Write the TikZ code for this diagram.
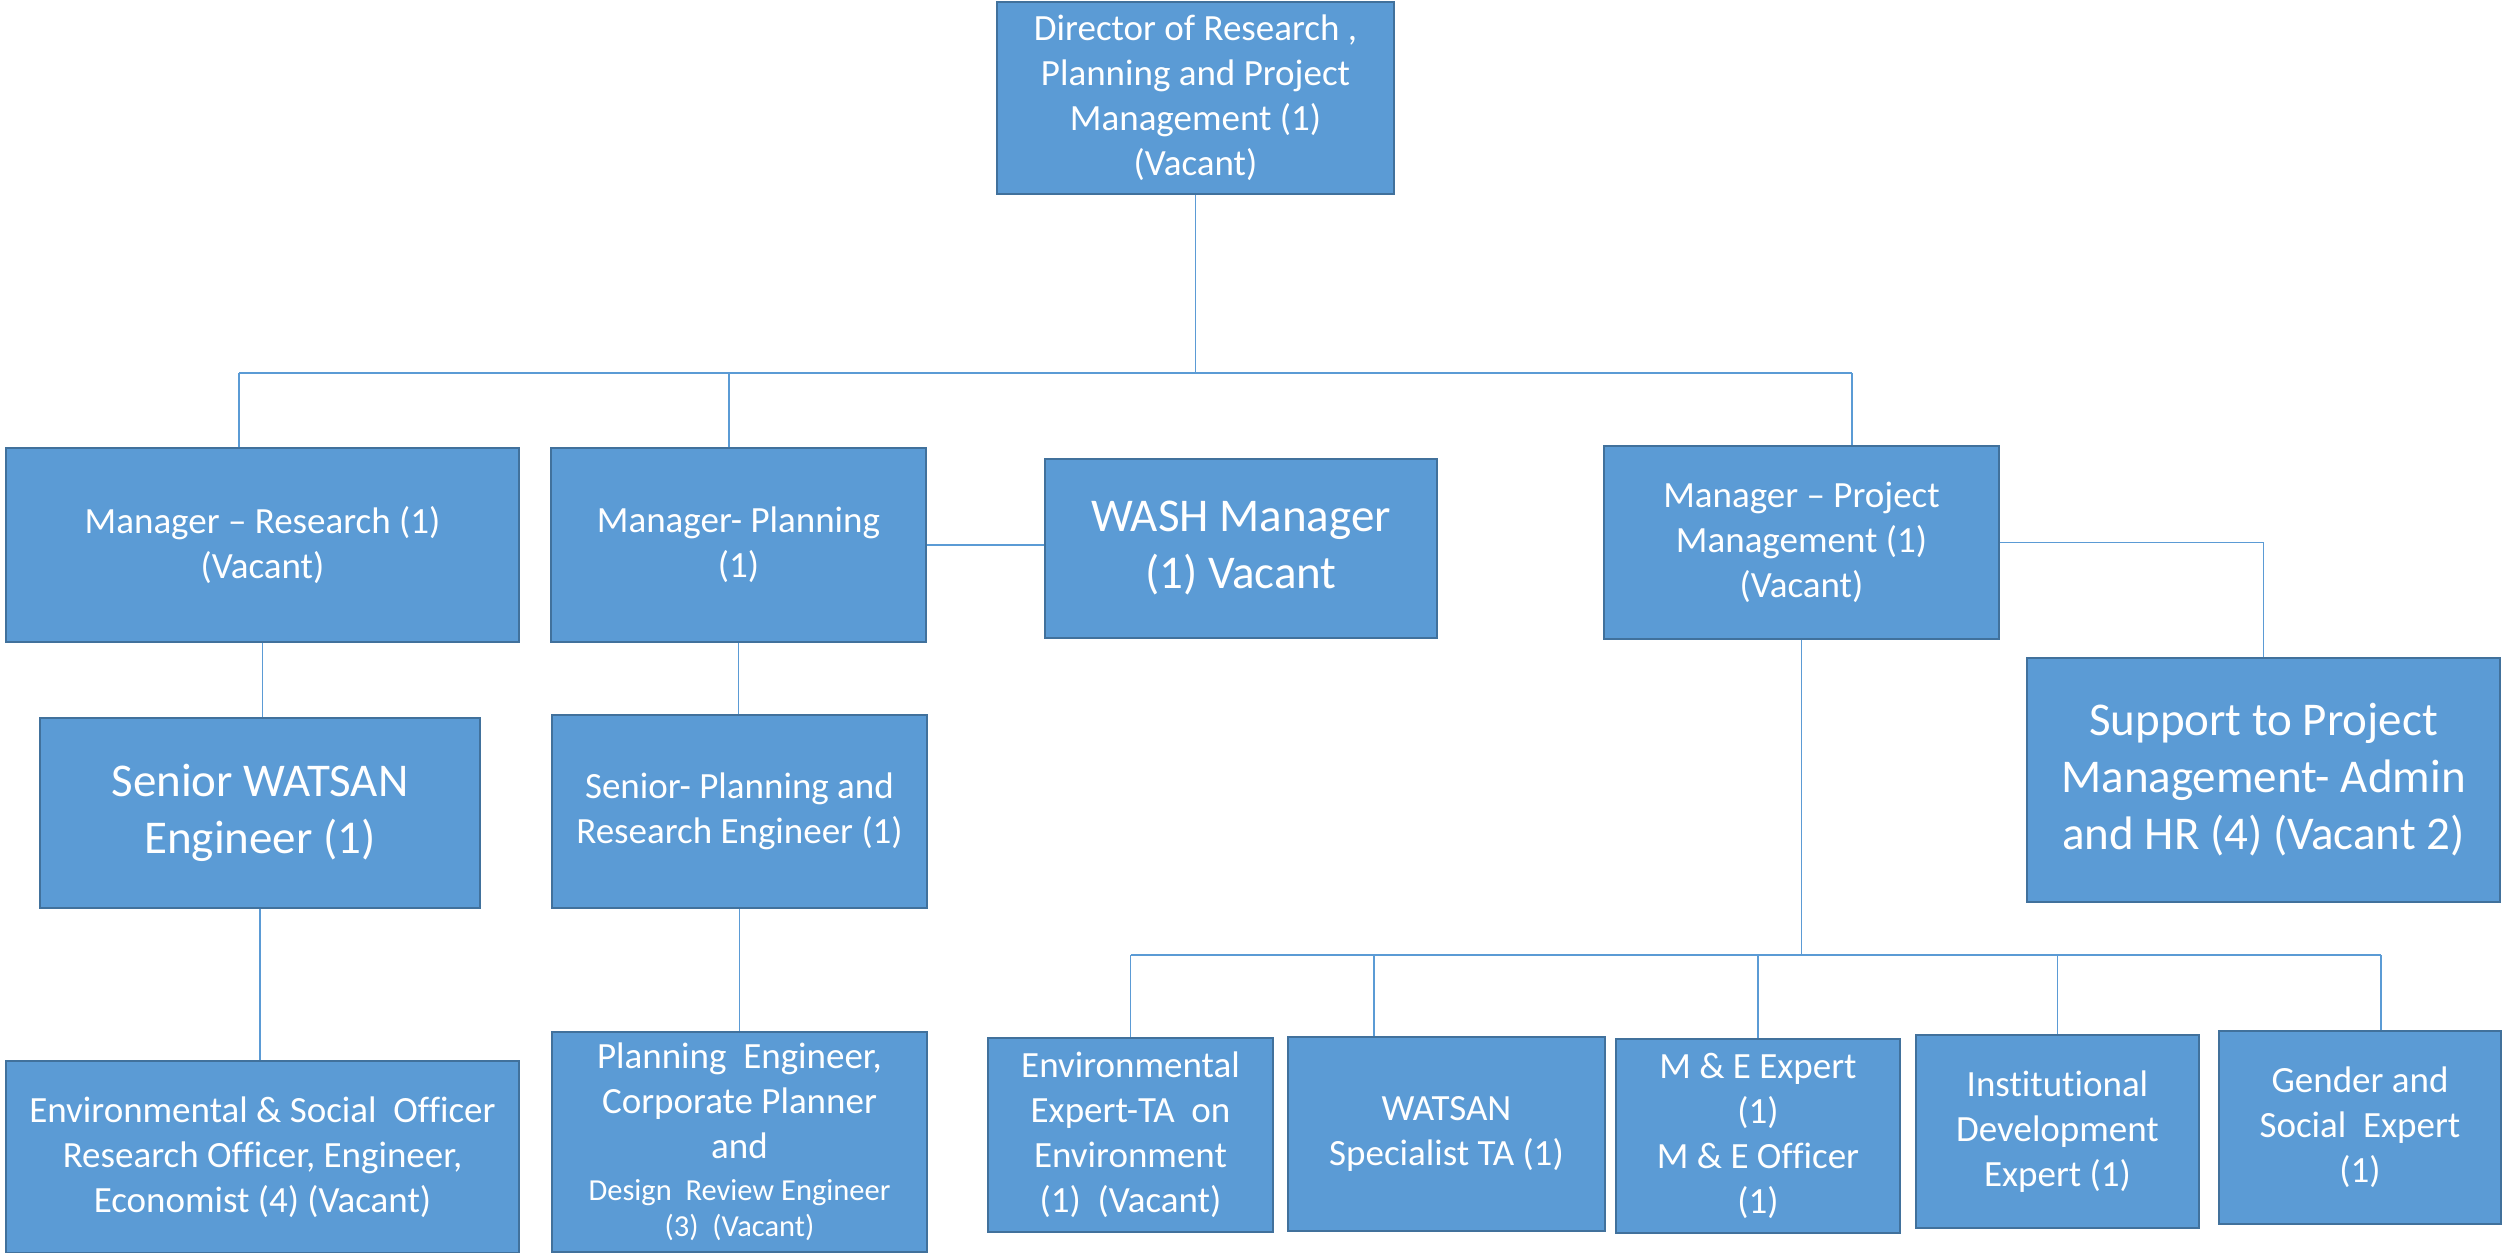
\documentclass[tikz,border=0pt]{standalone}
\usepackage{fontspec}
\setmainfont{Carlito}[Ligatures={TeX,CommonOff}]

\definecolor{boxfill}{RGB}{91,155,213}
\definecolor{boxline}{RGB}{65,113,156}
\definecolor{wireblue}{RGB}{91,155,213}

\newcommand{\smalltxt}{\fontsize{30.5}{37}\selectfont}

\tikzset{
  post/.style={draw=boxline, line width=2.5pt, fill=boxfill, text=white,
    align=center, inner sep=0pt, font=\fontsize{37}{45}\selectfont},
  bigpost/.style={post, font=\fontsize{47}{57}\selectfont},
  wire/.style={draw=wireblue, line width=1.3pt},
}

\begin{document}
\begin{tikzpicture}[x=1pt,y=1pt,yscale=-1,xscale=1]
    \useasboundingbox (0,0) rectangle (2504,1253);

    % Director
    \node[post, minimum width=397, minimum height=192] (dir) at (1195.5,98) {Director of Research ,\\ Planning and Project\\ Management (1)\\ (Vacant)};

    % Managers
    \node[post, minimum width=513, minimum height=194] (mres) at (262.5,545) {Manager -- Research (1)\\ (Vacant)};
    \node[post, minimum width=375, minimum height=194] (mplan) at (738.5,545) {Manager- Planning\\ (1)};
    \node[bigpost, minimum width=392, minimum height=179] (wash) at (1241,548.5) {WASH Manager\\ (1) Vacant};
    \node[post, minimum width=395, minimum height=193] (mpm) at (1801.5,542.5) {Manager -- Project\\ Management (1)\\ (Vacant)};
    \node[bigpost, minimum width=473, minimum height=244] (supp) at (2263.5,780) {Support to Project\\ Management- Admin\\ and HR (4) (Vacant 2)};

    % Senior engineers
    \node[bigpost, minimum width=440, minimum height=190] (swat) at (260,813) {Senior WATSAN\\ Engineer (1)};
    \node[post, minimum width=375, minimum height=193] (splan) at (739.5,811.5) {Senior- Planning and\\ Research Engineer (1)};

    % Officers
    \node[post, minimum width=513, minimum height=192] (envsoc) at (262.5,1157) {Environmental \& Social\ \ Officer\\ Research Officer, Engineer,\\ Economist (4) (Vacant)};
    \node[post, minimum width=375, minimum height=220] (pleng) at (739.5,1142) {Planning\ \ Engineer,\\ Corporate Planner\\ and\\[-3pt] \smalltxt Design\ \ Review Engineer\\[-9pt] \smalltxt (3)\ \ (Vacant)};

    % Experts under project management
    \node[post, minimum width=285, minimum height=194] (envexp) at (1130.5,1135) {Environmental\\ Expert-TA\ \ on\\ Environment\\ (1)\ \ (Vacant)};
    \node[post, minimum width=317, minimum height=194] (watspec) at (1446.5,1134) {WATSAN\\ Specialist TA (1)};
    \node[post, minimum width=284, minimum height=194] (me) at (1758,1136) {M \& E Expert\\ (1)\\ M \& E Officer\\ (1)};
    \node[post, minimum width=283, minimum height=193] (inst) at (2057.5,1131.5) {Institutional\\ Development\\ Expert (1)};
    \node[post, minimum width=282, minimum height=193] (gender) at (2360,1127.5) {Gender and\\ Social\ \ Expert\\ (1)};

    % Upper bus
    \coordinate (busW) at (239,373);
    \coordinate (busP) at (729,373);
    \coordinate (busE) at (1852,373);
    \draw[wire] (dir.south) -- (dir.south |- busW);
    \draw[wire] (busW) -- (busE);
    \draw[wire] (busW) -- (busW |- mres.north);
    \draw[wire] (busP) -- (busP |- mplan.north);
    \draw[wire] (busE) -- (busE |- mpm.north);

    % Side links
    \draw[wire] (mplan.east) -- (mplan.east -| wash.west);
    \draw[wire] (mpm.east) -| (supp.north);

    % Left columns
    \draw[wire] (mres.south) -- (mres.south |- swat.north);
    \draw[wire] (swat.south) -- (swat.south |- envsoc.north);
    \draw[wire] (mplan.south) -- (mplan.south |- splan.north);
    \draw[wire] (splan.south) -- (splan.south |- pleng.north);

    % Lower bus
    \coordinate (lowW) at (1130.5,955);
    \coordinate (lowS) at (1374,955);
    \coordinate (lowE) at (2381,955);
    \draw[wire] (mpm.south) -- (mpm.south |- lowW);
    \draw[wire] (lowW) -- (lowE);
    \draw[wire] (lowW) -- (envexp.north);
    \draw[wire] (lowS) -- (lowS |- watspec.north);
    \draw[wire] (me.north |- lowW) -- (me.north);
    \draw[wire] (inst.north |- lowW) -- (inst.north);
    \draw[wire] (lowE) -- (lowE |- gender.north);

\end{tikzpicture}
\end{document}
